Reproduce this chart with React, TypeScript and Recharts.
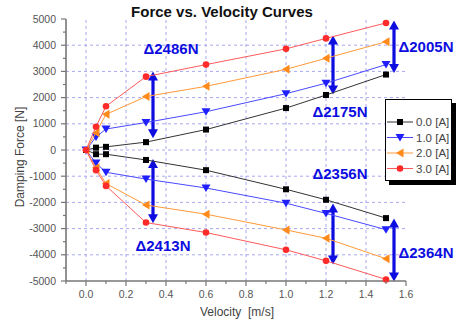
import React from 'react';
import { ScatterChart, Scatter, XAxis, YAxis, ReferenceLine, ReferenceDot } from 'recharts';

const velocities = [0, 0.05, 0.1, 0.3, 0.6, 1.0, 1.2, 1.5];
const pos00 = [0, 90, 120, 300, 780, 1600, 2100, 2880];
const neg00 = [0, -160, -160, -380, -770, -1500, -1900, -2600];
const pos10 = [0, 500, 800, 1050, 1460, 2150, 2550, 3260];
const neg10 = [0, -500, -850, -1110, -1450, -2030, -2420, -3040];
const pos20 = [0, 660, 1360, 2040, 2430, 3080, 3500, 4130];
const neg20 = [0, -680, -1280, -2100, -2450, -3050, -3370, -4150];
const pos30 = [0, 890, 1670, 2800, 3260, 3860, 4260, 4850];
const neg30 = [0, -770, -1370, -2770, -3150, -3810, -4230, -4940];

const currentLabels = ['0.0 [A]', '1.0 [A]', '2.0 [A]', '3.0 [A]'];
const seriesColors = ['#000000', '#1f1fff', '#ff8a1a', '#ff2a2a'];
const lineColors = ['#333333', '#4a4aff', '#ff9a3a', '#ff5a5a'];
const markerKinds = ['square', 'down', 'left', 'circle'];

const xMajorTicks = [0, 0.2, 0.4, 0.6, 0.8, 1.0, 1.2, 1.4, 1.6];
const xMinorTicks = [-0.1, 0.1, 0.3, 0.5, 0.7, 0.9, 1.1, 1.3, 1.5];
const yMajorTicks = [-5000, -4000, -3000, -2000, -1000, 0, 1000, 2000, 3000, 4000, 5000];
const yMinorTicks = [-4500, -3500, -2500, -1500, -500, 500, 1500, 2500, 3500, 4500];
const xGrid = [0, 0.2, 0.4, 0.6, 0.8, 1.0, 1.2, 1.4];
const yGrid = [-4000, -3000, -2000, -1000, 0, 1000, 2000, 3000, 4000];

const arrowX = [0.335, 1.54, 1.235, 0.335, 1.235, 1.54];
const arrowTop = [3000, 4940, 4370, -340, -2040, -2610];
const arrowBottom = [450, 2940, 2120, -2800, -4370, -5020];
const annLabels = ['Δ2486N', 'Δ2005N', 'Δ2175N', 'Δ2413N', 'Δ2356N', 'Δ2364N'];
const annX = [0.425, 1.7, 1.27, 0.385, 1.27, 1.7];
const annY = [3880, 3950, 1480, -3650, -910, -3920];

const positives = [pos00, pos10, pos20, pos30];
const negatives = [neg00, neg10, neg20, neg30];

const seriesData = positives.map((pos, i) => {
  const neg = negatives[i];
  const out: { v: number; f: number }[] = [];
  for (let k = velocities.length - 1; k >= 1; k--) out.push({ v: velocities[k], f: neg[k] });
  for (let k = 0; k < velocities.length; k++) out.push({ v: velocities[k], f: pos[k] });
  return out;
});

const FONT = '"Liberation Sans", Arial, sans-serif';
const BLUE = '#0d0de0';

function Marker({ kind, cx, cy, color }: { kind: string; cx: number; cy: number; color: string }) {
  if (kind === 'square') return <rect x={cx - 3} y={cy - 3} width={6} height={6} fill={color} />;
  if (kind === 'down')
    return <polygon points={`${cx - 4.5},${cy - 3.5} ${cx + 4.5},${cy - 3.5} ${cx},${cy + 4}`} fill={color} />;
  if (kind === 'left')
    return <polygon points={`${cx + 3.5},${cy - 4.5} ${cx + 3.5},${cy + 4.5} ${cx - 4},${cy}`} fill={color} />;
  return <circle cx={cx} cy={cy} r={3.3} fill={color} />;
}

const isIn = (arr: number[], v: number) => arr.some((a) => Math.abs(a - v) < 1e-6);

const XTick = (props: any) => {
  const { x, y, payload } = props;
  const major = isIn(xMajorTicks, payload.value);
  return (
    <g>
      <line x1={x} x2={x} y1={y} y2={y + (major ? 5 : 3)} stroke="#777" strokeWidth={1.2} />
      {major && (
        <text x={x} y={y + 17} textAnchor="middle" fontSize={10.5} fill="#555" fontFamily={FONT}>
          {payload.value.toFixed(1)}
        </text>
      )}
    </g>
  );
};

const YTick = (props: any) => {
  const { x, y, payload } = props;
  const major = isIn(yMajorTicks, payload.value);
  return (
    <g>
      <line x1={x} x2={x - (major ? 5 : 3)} y1={y} y2={y} stroke="#777" strokeWidth={1.2} />
      {major && (
        <text x={x - 10} y={y + 3.5} textAnchor="end" fontSize={10.5} fill="#555" fontFamily={FONT}>
          {payload.value}
        </text>
      )}
    </g>
  );
};

const ArrowShape = (props: any) => {
  const { x1, y1, y2 } = props;
  const top = Math.min(y1, y2);
  const bot = Math.max(y1, y2);
  const h = 9;
  const w = 5;
  return (
    <g>
      <line x1={x1} x2={x1} y1={top + h - 1} y2={bot - h + 1} stroke={BLUE} strokeWidth={3.2} />
      <polygon points={`${x1},${top} ${x1 - w},${top + h} ${x1 + w},${top + h}`} fill={BLUE} />
      <polygon points={`${x1},${bot} ${x1 - w},${bot - h} ${x1 + w},${bot - h}`} fill={BLUE} />
    </g>
  );
};

const xTicks = [...xMinorTicks, ...xMajorTicks].sort((a, b) => a - b);
const yTicks = [...yMinorTicks, ...yMajorTicks].sort((a, b) => a - b);

export default function App() {
  return (
    <div style={{ position: 'absolute', left: 0, top: 0, width: 462, height: 322, background: '#fff', fontFamily: FONT }}>
      <ScatterChart width={462} height={322} margin={{ top: 19, right: 56, bottom: 0, left: 0 }}>
        <XAxis
          type="number"
          dataKey="v"
          domain={[-0.1, 1.6]}
          ticks={xTicks}
          interval={0}
          tickSize={0}
          tickMargin={0}
          tick={<XTick />}
          height={41}
          stroke="#777"
          strokeWidth={1.6}
        />
        <YAxis
          type="number"
          dataKey="f"
          domain={[-5000, 5000]}
          ticks={yTicks}
          interval={0}
          tickSize={0}
          tickMargin={0}
          tick={<YTick />}
          width={66}
          stroke="#777"
          strokeWidth={1.6}
        />
        {xGrid.map((g) => (
          <ReferenceLine key={'gx' + g} x={g} stroke="#a8a8ee" strokeDasharray="3 3" strokeWidth={1} />
        ))}
        {yGrid.map((g) => (
          <ReferenceLine key={'gy' + g} y={g} stroke="#a8a8ee" strokeDasharray="3 3" strokeWidth={1} />
        ))}
        {seriesData.map((d, i) => (
          <Scatter
            key={currentLabels[i]}
            name={currentLabels[i]}
            data={d}
            isAnimationActive={false}
            line={{ stroke: lineColors[i], strokeWidth: 1 }}
            lineType="joint"
            shape={(p: any) => <Marker kind={markerKinds[i]} cx={p.cx} cy={p.cy} color={seriesColors[i]} />}
          />
        ))}
        {arrowX.map((ax, i) => (
          <ReferenceLine
            key={'ar' + i}
            segment={[
              { x: ax, y: arrowTop[i] },
              { x: ax, y: arrowBottom[i] },
            ]}
            ifOverflow="visible"
            shape={ArrowShape}
          />
        ))}
        {annLabels.map((t, i) => (
          <ReferenceDot
            key={'an' + i}
            x={annX[i]}
            y={annY[i]}
            ifOverflow="visible"
            shape={(p: any) => (
              <text
                x={p.cx}
                y={p.cy}
                textAnchor="middle"
                dominantBaseline="central"
                fontSize={15}
                fontWeight="bold"
                fill={BLUE}
                fontFamily={FONT}
              >
                {t}
              </text>
            )}
          />
        ))}
      </ScatterChart>
      <div
        style={{
          position: 'absolute',
          left: 0,
          top: 3,
          width: 444,
          textAlign: 'center',
          fontSize: 15,
          fontWeight: 'bold',
          color: '#111',
          lineHeight: '18px',
        }}
      >
        Force vs. Velocity Curves
      </div>
      <div
        style={{
          position: 'absolute',
          left: 137,
          top: 305,
          width: 200,
          textAlign: 'center',
          fontSize: 12,
          color: '#444',
          lineHeight: '15px',
          whiteSpace: 'pre',
        }}
      >
        {'Velocity  [m/s]'}
      </div>
      <div
        style={{
          position: 'absolute',
          left: 20 - 80,
          top: 157 - 8,
          width: 160,
          textAlign: 'center',
          fontSize: 12,
          color: '#444',
          lineHeight: '16px',
          transform: 'rotate(-90deg)',
        }}
      >
        Damping Force [N]
      </div>
      <div
        style={{
          position: 'absolute',
          left: 385,
          top: 99,
          width: 67,
          height: 82,
          border: '1px solid #000',
          boxShadow: '4px 4px 0 #000',
          background: '#fff',
          boxSizing: 'border-box',
        }}
      >
        <svg width={67} height={82} style={{ position: 'absolute', left: -1, top: -1 }}>
          {currentLabels.map((lab, i) => {
            const cy = 23 + i * 15.5;
            return (
              <g key={lab}>
                <line x1={2} x2={28} y1={cy} y2={cy} stroke={lineColors[i]} strokeWidth={1} />
                <Marker kind={markerKinds[i]} cx={15} cy={cy} color={seriesColors[i]} />
                <text x={31} y={cy + 4} fontSize={11.5} fill="#444" fontFamily={FONT}>
                  {lab}
                </text>
              </g>
            );
          })}
        </svg>
      </div>
    </div>
  );
}
